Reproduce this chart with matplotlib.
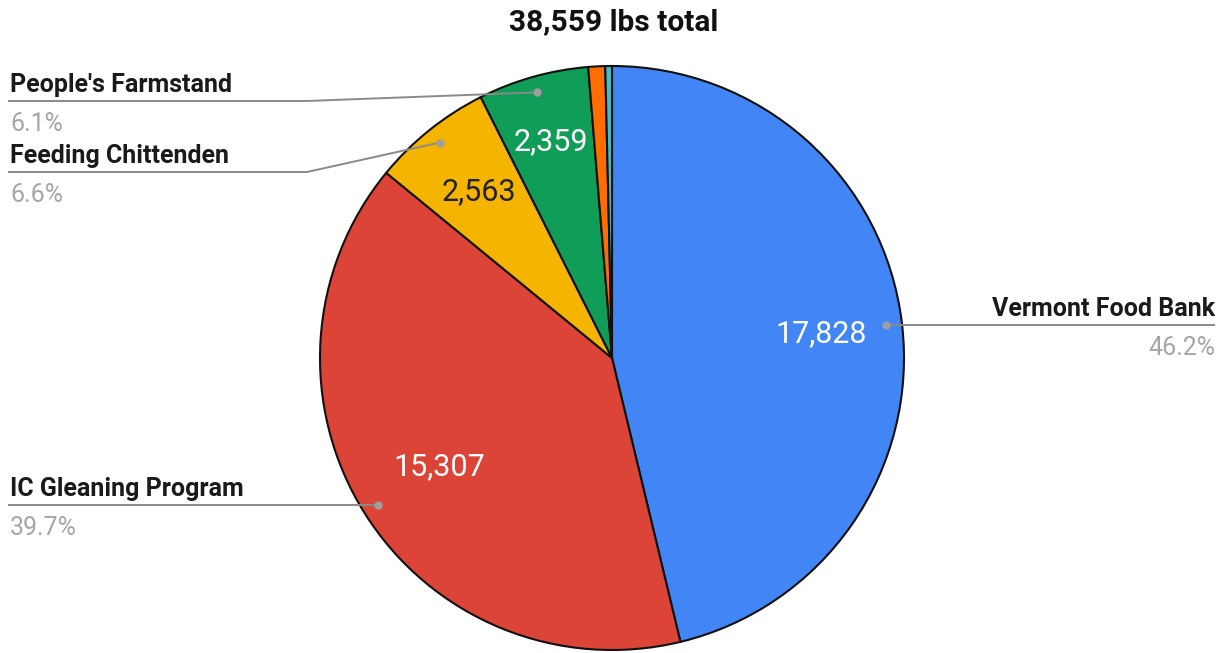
import numpy as np
import matplotlib.pyplot as plt

plt.rcParams['font.family'] = ['Roboto', 'DejaVu Sans']

# pounds delivered per recipient (clockwise from 12 o'clock)
recipients = ['Vermont Food Bank', 'IC Gleaning Program', 'Feeding Chittenden',
              "People's Farmstand", 'Other', 'Other (small)']
pounds = [17828, 15307, 2563, 2359, 360, 142]
colors = ['#4285F4', '#DB4437', '#F4B400', '#0F9D58', '#FF6D01', '#46BDC6']
value_colors = ['white', 'white', '#222222', 'white']

W, H = 1225, 653
cx, cy, R = 612, H - 358, 292

fig = plt.figure(figsize=(W / 100, H / 100), dpi=100)
ax = fig.add_axes([0, 0, 1, 1])

total = sum(pounds)
wedges, _ = ax.pie(pounds, colors=colors, startangle=90, counterclock=False,
                   center=(cx, cy), radius=R,
                   wedgeprops=dict(edgecolor='#111111', linewidth=1.5))
ax.set_xlim(0, W)
ax.set_ylim(0, H)
ax.set_aspect('equal')
ax.axis('off')

ax.text(W / 2 + 1, H - 22, f'{total:,} lbs total', ha='center', va='center',
        fontsize=21.5, fontweight='bold', color='#111111')

# value labels inside the four big slices
label_r = [0.72, 0.70, 0.73, 0.77]
for i in range(4):
    w = wedges[i]
    ang = np.deg2rad((w.theta1 + w.theta2) / 2)
    x = cx + label_r[i] * R * np.cos(ang)
    y = cy + label_r[i] * R * np.sin(ang)
    ax.text(x, y, f'{pounds[i]:,}', ha='center', va='center',
            fontsize=22, color=value_colors[i])

# outside labels with leader lines: (side, underline y in px, elbow x)
layout = [('right', 327, None), ('left', 508, None),
          ('left', 172, 307), ('left', 101, 307)]
line_c = '#8a8a8a'
for i, (side, ly, elbow) in enumerate(layout):
    w = wedges[i]
    ang = np.deg2rad((w.theta1 + w.theta2) / 2)
    dx = cx + 0.945 * R * np.cos(ang)
    dy = cy + 0.945 * R * np.sin(ang)
    y = H - ly
    pct = pounds[i] / total * 100
    if side == 'right':
        xs, ys = [dx, 1215], [dy, dy]
        tx, ha = 1215, 'right'
        y = dy
    else:
        if elbow is None:
            xs, ys = [8, dx], [dy, dy]
            y = dy
        else:
            xs, ys = [8, elbow, dx], [y, y, dy]
        tx, ha = 10, 'left'
    ax.plot(xs, ys, color=line_c, lw=1.4, solid_capstyle='butt')
    ax.plot(dx, dy, 'o', ms=6, color='#9e9e9e', mec='none')
    ax.text(tx, y + 9, recipients[i], ha=ha, va='baseline', fontsize=18,
            fontweight='bold', color='#1a1a1a')
    ax.text(tx, y - 30, f'{pct:.1f}%', ha=ha, va='baseline', fontsize=18,
            color='#a6a6a6')

fig.savefig('out.png', dpi=100)
